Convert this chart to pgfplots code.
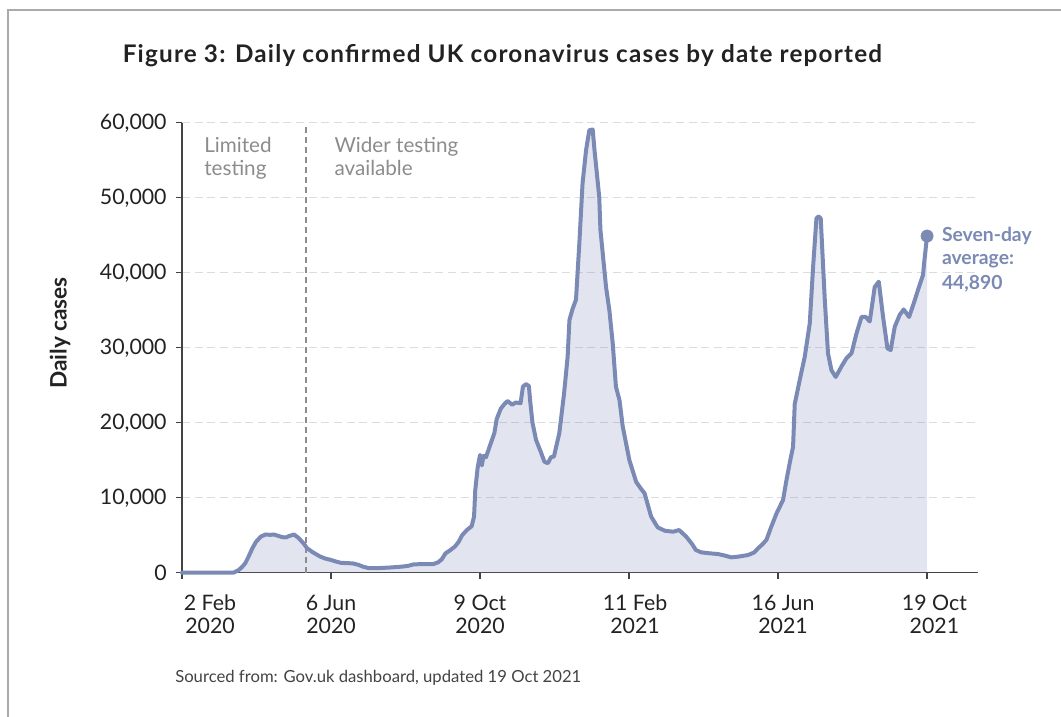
\documentclass[border=0pt]{standalone}
\usepackage{pgfplots}
\pgfplotsset{compat=1.18}
\usepackage{pgfplotstable}
\usepackage{fontspec}
\setmainfont{Lato}
\newfontfamily\titlefont{Lato}[LetterSpace=5]

\definecolor{linec}{RGB}{122,138,180}
\definecolor{inkc}{RGB}{34,34,34}
\definecolor{notec}{RGB}{140,140,140}
\definecolor{gridc}{RGB}{220,220,220}
\definecolor{framec}{RGB}{170,170,170}

% Daily UK cases (seven-day average), x = days since 2 Feb 2020
\pgfplotstableread{
day cases
0 0
43 0
47 300
50 700
53 1250
56 2200
59 3250
62 4100
66 4800
70 5100
74 5050
77 5100
81 4900
84 4750
87 4700
90 4900
94 5100
98 4600
102 3900
105 3250
110 2700
116 2150
120 1900
125 1700
129 1500
133 1330
138 1280
143 1250
148 1050
152 800
157 600
165 620
175 700
185 820
190 930
194 1100
200 1150
205 1150
211 1160
215 1400
218 1800
221 2580
225 3000
229 3500
232 4100
235 5000
239 5700
243 6200
245 7500
246 11000
248 14000
250 15700
251.5 14300
253 15600
255 15400
258 16800
262 18600
264 20500
267.5 21900
270 22400
273 22900
277 22400
280 22700
284 22600
286 24800
288.5 25150
291 24900
292 23000
294 20000
297 17700
301 16100
304 14800
307 14600
309.5 15400
312 15500
316.5 18600
320.5 23900
323.5 28800
325 33700
327.7 35200
330.5 36400
333.3 43900
336 51900
339 56400
341.7 59000
344.5 59100
346 56400
350 50100
351 45700
355.7 38100
358.5 35000
361.3 30600
364 24800
367 23000
369.7 19500
375.3 15000
381 12100
385 11200
388 10600
393.5 7500
399 6050
405 5600
412 5470
417 5690
423 4800
428 3800
431 3030
435.5 2720
442 2600
449.6 2490
455 2300
460.8 2050
467 2150
474.8 2360
480 2700
483.2 3250
487 3800
490.3 4400
494 6000
498.7 7900
504.2 9700
507 12300
510 14800
512.6 16800
514 22500
518.2 25700
522.4 28800
526.6 33250
529.4 40800
532.2 47250
534 47500
535.8 47250
539.2 36400
541.9 29250
544.8 27000
548.4 26100
553.2 27500
557.4 28600
561.6 29250
565.8 31900
570 34100
573.6 34100
576.9 33500
581.1 38100
584.5 38800
588.1 34100
591.8 29900
594.5 29700
597.9 32800
602.1 34400
605.4 35100
609.9 34100
613.8 35900
617.4 37700
621.6 39700
622.5 41250
625 44890
}\casedata

% two-line date label, optionally pushed right by #3
\newcommand{\datelbl}[3]{\hspace*{#3}\begin{tabular}{@{}c@{}}#1\\#2\end{tabular}}

\begin{document}
\begin{tikzpicture}
\path[use as bounding box] (0pt,0pt) rectangle (795.75pt,537.75pt);
\draw[framec, line width=1.5pt] (6.2pt,-1.5pt) -- (6.2pt,530.4pt) -- (797.25pt,530.4pt);

\node[anchor=base west, inner sep=0, text=inkc, font=\fontsize{18.2}{21}\titlefont\bfseries]
  at (91.9pt,490.9pt) {Figure 3: Daily confirmed UK coronavirus cases by date reported};

\node[rotate=90, inner sep=0, text=inkc, font=\fontsize{17}{20}\selectfont\bfseries]
  at (45pt,288pt) {Daily cases};

\begin{axis}[
  at={(136.5pt,108.2pt)}, anchor=origin,
  scale only axis, width=596.8pt, height=337.5pt,
  xmin=0, xmax=667.5, ymin=0, ymax=60000,
  clip=false,
  axis x line*=bottom, axis y line*=left,
  axis line style={inkc!85, line width=1pt},
  tick align=outside, major tick length=4.5pt,
  tick style={inkc!85, line width=1pt},
  xtick={0,125,250,375,500,625},
  xticklabels={
    {\datelbl{2 Feb}{2020}{42pt}},
    {\datelbl{6 Jun}{2020}{0pt}},
    {\datelbl{9 Oct}{2020}{0pt}},
    {\datelbl{11 Feb}{2021}{9pt}},
    {\datelbl{16 Jun}{2021}{7.5pt}},
    {\datelbl{19 Oct}{2021}{11pt}}},
  ytick={0,10000,...,60000},
  scaled y ticks=false,
  /pgf/number format/1000 sep={,},
  /pgf/number format/assume math mode=true,
  ticklabel style={text=inkc, font=\fontsize{16}{17.5}\selectfont},
  xticklabel style={yshift=-8pt},
  yticklabel style={xshift=-3.5pt},
  ymajorgrids,
  grid style={gridc, line width=0.8pt, dash pattern=on 6pt off 3.5pt},
]
\addplot[draw=none, fill=linec, fill opacity=0.22] table[x=day, y=cases] {\casedata} \closedcycle;
\draw[notec, line width=0.9pt, dash pattern=on 4.5pt off 3pt] (axis cs:104,0) -- (axis cs:104,60000);
\addplot[linec, line width=3pt, line join=round, line cap=round] table[x=day, y=cases] {\casedata};
\addplot[only marks, mark=*, mark size=4.6pt, color=linec] coordinates {(625,44890)};
\end{axis}

\begin{scope}[every node/.style={anchor=base west, inner sep=0, text=notec, font=\fontsize{15.5}{18}\selectfont}]
\node at (153pt,423.2pt) {Limited};
\node at (153pt,405.75pt) {testing};
\node at (250.7pt,423.2pt) {Wider testing};
\node at (250.7pt,405.75pt) {available};
\end{scope}

\begin{scope}[every node/.style={anchor=base west, inner sep=0, text=linec, font=\fontsize{14.5}{18}\selectfont\bfseries}]
\node at (706.3pt,356.5pt) {Seven-day};
\node at (706.3pt,339pt) {average:};
\node at (706.3pt,320.8pt) {44,890};
\end{scope}

\node[anchor=base west, inner sep=0, text=inkc!85, font=\fontsize{12.5}{15}\selectfont]
  at (131.25pt,25.7pt) {Sourced from: Gov.uk dashboard, updated 19 Oct 2021};
\end{tikzpicture}
\end{document}
